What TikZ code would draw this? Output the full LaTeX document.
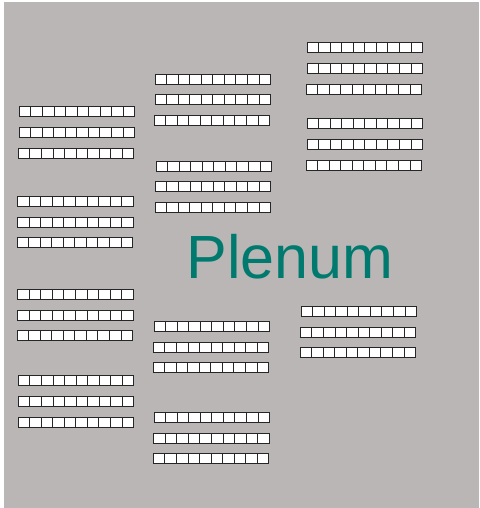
\documentclass[tikz,border=0pt]{standalone}
\usepackage{fontspec}
\setmainfont{Liberation Sans}
\definecolor{plenumgray}{RGB}{185,182,181}
\definecolor{plenumteal}{RGB}{0,122,110}
\tikzset{
  cell/.style={draw=black!85, fill=white, line width=0.9pt},
  plenumlabel/.style={text=plenumteal, font=\fontsize{61}{61}\selectfont, inner sep=0pt, anchor=base west},
  pics/cellrow/.style={code={
    \foreach \i in {0,...,9}{
      \draw[cell] (\i*11.55,0) rectangle ++(11.55,10);
    }
  }}
}
\begin{document}
\begin{tikzpicture}[x=1pt,y=-1pt]
\useasboundingbox (0,0) rectangle (479,508);
\fill[plenumgray] (4,2) rectangle (479,508);
\foreach \x/\y in {19.3/106.7, 19/127.3, 18.3/148.3,
                   17.7/196.7, 17.7/217, 17/237.7,
                   17.7/289.7, 17.7/310.3, 17/330.3,
                   18.3/375, 18.3/396.3, 18/417,
                   155/74, 155/94.7, 154/115.3,
                   156/161, 155.3/181.3, 155/202,
                   154/321.7, 153.3/342, 153/362.3,
                   154/412.3, 153.7/433, 153.3/453.7,
                   307/42.7, 307/63.3, 306/84,
                   307/118.7, 307/139.3, 306/160,
                   301/306.7, 300.3/327.3, 300/347.7}{
  \pic at (\x,\y) {cellrow};
}
\node[plenumlabel] (plenum) at (186.5,278.3) {Plenum};
\end{tikzpicture}
\end{document}
